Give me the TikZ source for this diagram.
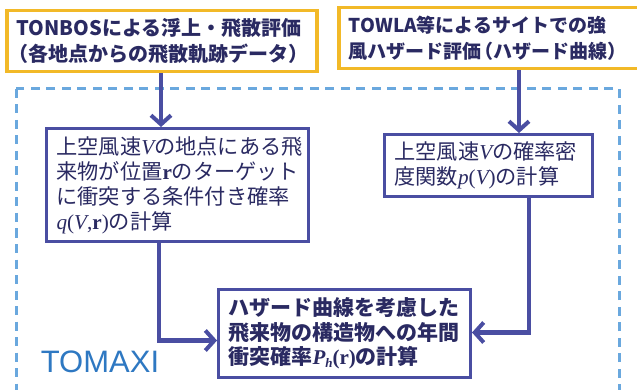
\documentclass[tikz,border=0pt]{standalone}
\usepackage{fontspec}
\setmainfont{Noto Sans CJK JP}
\newfontfamily\lsans{Liberation Sans}
\newfontfamily\tms{Liberation Serif}
\usetikzlibrary{arrows.meta,calc}
\definecolor{txtnavy}{HTML}{2A2A62}
\definecolor{flowblue}{HTML}{4A4EA2}
\definecolor{boxorange}{HTML}{F2B928}
\definecolor{dashblue}{HTML}{6AA8DE}
\definecolor{tomblue}{HTML}{2E78C2}
\newcommand{\mV}{{\tms\itshape V}}
\newcommand{\mr}{{\tms\bfseries r}}
\newcommand{\mtp}[1]{{\tms #1}}
\newcommand{\nlp}{\makebox[0.6em][r]{（}}
\newcommand{\nrp}{\makebox[0.6em][l]{）}}
\tikzset{
  srcbox/.style={draw=boxorange, line width=3.5pt, fill=white, text=txtnavy,
    inner xsep=10pt, inner ysep=0pt, align=left, anchor=north west,
    font={\fontsize{20}{26.5}\selectfont\bfseries}},
  calcbox/.style={draw=flowblue, line width=3pt, fill=white, text=txtnavy,
    inner xsep=10pt, inner ysep=0pt, align=left, anchor=north west,
    font={\fontsize{21.2}{25}\selectfont}},
  flow/.style={draw=flowblue, line width=4.5pt,
    -{Straight Barb[length=9pt,width=20pt,line width=4pt]}},
  region/.style={draw=dashblue, line width=3pt, dash pattern=on 9pt off 6.5pt}
}
\begin{document}
\begin{tikzpicture}[x=1pt,y=-1pt]
\useasboundingbox (0,0) rectangle (637,390);
\clip (0,0) rectangle (637,390);
\fill[white] (0,0) rectangle (637,390);
% TOMAXI region
\draw[region] (16,89) rectangle (619,420);
\node[text=tomblue, font={\lsans\fontsize{31}{31}\selectfont}, anchor=center] (tomaxi) at (100,362) {TOMAXI};
% source boxes
\node[srcbox, text width=290pt, minimum height=61pt] (tl) at (5,9)
  {TONBOSによる浮上・飛散評価\\\nlp 各地点からの飛散軌跡データ\nrp};
\node[srcbox, text width=288pt, minimum height=61pt, font={\fontsize{19}{26.5}\selectfont\bfseries}] (tr) at (337,6)
  {TOWLA等によるサイトでの強\\風ハザード評価\nlp ハザード曲線\nrp};
% calc boxes
\node[calcbox, text width=242pt, minimum height=113pt] (ml) at (45,127)
  {上空風速\mV の地点にある飛\\来物が位置\mr のターゲット\\に衝突する条件付き確率\\{\tms\itshape q}\mtp{(}\mV\mtp{,}\mr\mtp{)}の計算};
\node[calcbox, text width=188pt, minimum height=62pt] (mr) at (383,133)
  {上空風速\mV の確率密\\度関数{\tms\itshape p}\mtp{(}\mV\mtp{)}の計算};
\node[calcbox, text width=232pt, minimum height=88pt, font={\fontsize{21}{24.5}\selectfont\bfseries}] (bt) at (217,288)
  {ハザード曲線を考慮した\\飛来物の構造物への年間\\衝突確率{\tms\itshape P}\raisebox{-3pt}{\tms\itshape\fontsize{13}{13}\selectfont h}\mtp{(}\mr\mtp{)}の計算};
% connectors
\draw[flow] (161,0 |- tl.south) -- (161,0 |- ml.north);
\draw[flow] (519,0 |- tr.south) -- (519,0 |- mr.north);
\draw[flow] (159,0 |- ml.south) |- ([yshift=-7pt]bt.west);
\draw[flow] (529,0 |- mr.south) |- ([yshift=1pt]bt.east);
\end{tikzpicture}
\end{document}
